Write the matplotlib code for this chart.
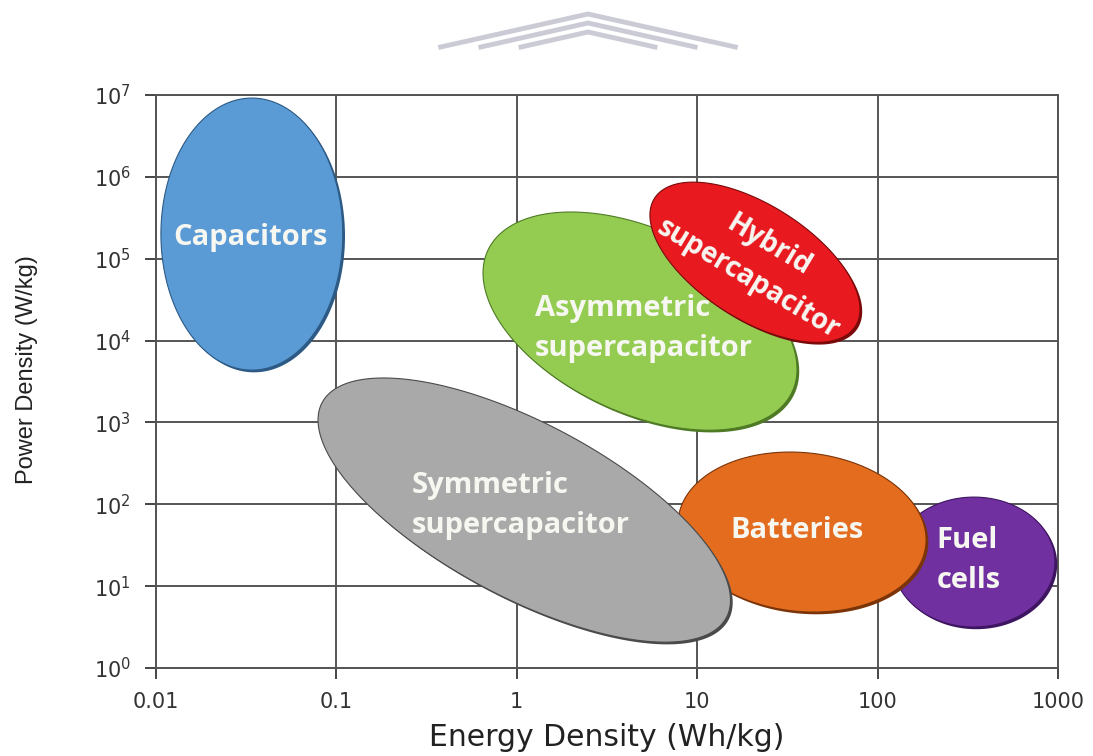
import numpy as np
import matplotlib.pyplot as plt
import matplotlib.transforms as mtrans
from matplotlib.lines import Line2D

# Ragone plot regions: centre (Wh/kg, W/kg), semi-axes in decades, tilt in degrees
names = ['Fuel cells', 'Batteries', 'Symmetric supercapacitor',
         'Asymmetric supercapacitor', 'Hybrid supercapacitor', 'Capacitors']
centre_energy = [342, 38.1, 1.10, 4.82, 20.9, 0.034]
centre_power = [19.7, 45.8, 85, 1.73e4, 9.06e4, 2.0e5]
semi_major = [0.449, 0.690, 1.269, 0.930, 0.660, 0.504]
semi_minor = [0.360, 0.440, 0.482, 0.508, 0.317, 0.754]
tilt = [0, -6, -28, -24.9, -32.5, 0]
fills = ['#7030a0', '#e46c1e', '#a9a9a9', '#94cc52', '#e8191f', '#5b9bd5']
edges = ['#3e1560', '#7a3408', '#4a4a4a', '#4f7a25', '#7a0a0a', '#2c5a85']

# label text and anchor (Wh/kg, W/kg)
labels = ['Fuel\ncells', 'Batteries', 'Symmetric\nsupercapacitor',
          'Asymmetric\nsupercapacitor', 'Hybrid\nsupercapacitor', 'Capacitors']
label_energy = [213, 35.8, 0.262, 1.26, 22.0, 0.0332]
label_power = [20.3, 48.4, 96.4, 1.4e4, 9.06e4, 1.83e5]

x_ticks = [0.01, 0.1, 1, 10, 100, 1000]
x_tick_labels = ['0.01', '0.1', '1', '10', '100', '1000']
y_ticks = [10.0 ** k for k in range(8)]

plt.rcParams['mathtext.fontset'] = 'dejavusans'
fig = plt.figure(figsize=(10.93, 7.56), dpi=100)
ax = fig.add_axes([0.1427, 0.1164, 0.8253, 0.7579])
ax.set_xscale('log')
ax.set_yscale('log')
ax.set_xlim(0.01, 1000)
ax.set_ylim(1, 1e7)

# decades -> pixel aspect of the axes
ax_w = fig.get_figwidth() * fig.dpi * 0.8253 / 5
ax_h = fig.get_figheight() * fig.dpi * 0.7579 / 7
ratio = ax_w / ax_h

t = np.linspace(0, 2 * np.pi, 300)
shadow = mtrans.ScaledTranslation(1.6 / 72, -1.6 / 72, fig.dpi_scale_trans)
for i in range(len(names)):
    th = np.radians(tilt[i])
    u = semi_major[i] * np.cos(t)
    v = semi_minor[i] * np.sin(t)
    dx = u * np.cos(th) - v * np.sin(th)
    dy = (u * np.sin(th) + v * np.cos(th)) * ratio
    ex = 10 ** (np.log10(centre_energy[i]) + dx)
    ey = 10 ** (np.log10(centre_power[i]) + dy)
    ax.fill(ex, ey, color=edges[i], lw=0, zorder=3 + i,
            transform=ax.transData + shadow)
    ax.fill(ex, ey, facecolor=fills[i], edgecolor=edges[i], lw=0.8,
            zorder=3 + i)

for i in range(len(labels)):
    txt = labels[i]
    kw = dict(color='#f7f7f2', fontweight='bold',
              family=['Open Sans', 'DejaVu Sans'], zorder=20, va='center',
              linespacing=1.5)
    if i in (0, 2, 3):
        ax.text(label_energy[i], label_power[i], txt, ha='left',
                multialignment='left', fontsize=21, **kw)
    elif i == 4:
        ax.text(label_energy[i], label_power[i], txt, ha='center',
                multialignment='center', rotation=-31, fontsize=20,
                rotation_mode='anchor', **kw)
    else:
        ax.text(label_energy[i], label_power[i], txt, ha='center',
                fontsize=21, **kw)

ax.set_xticks(x_ticks)
ax.set_xticklabels(x_tick_labels)
ax.set_yticks(y_ticks)
ax.minorticks_off()
ax.grid(True, which='major', color='#555555', lw=1.4, zorder=1)
ax.set_axisbelow(True)
for s in ax.spines.values():
    s.set_color('#555555')
    s.set_linewidth(1.4)
ax.tick_params(direction='out', length=8, width=1.4, color='#444444',
               labelsize=15, labelcolor='#333333')
ax.tick_params(axis='x', pad=9)
ax.tick_params(axis='y', pad=10)

ax.set_xlabel('Energy Density (Wh/kg)', fontsize=21.5, color='#222222',
              family='DejaVu Sans', labelpad=8)
ax.set_ylabel('Power Density (W/kg)', fontsize=17, color='#222222',
              family='Liberation Sans')
ax.yaxis.set_label_coords(-0.131, 0.52)

# faint watermark chevrons at the top
for k in range(3):
    apex_y = 14 + 9 * k
    half = (47 - apex_y) / 0.224
    xs = np.array([588 - half, 588, 588 + half]) / 1093
    ys = 1 - np.array([47, apex_y, 47]) / 756
    fig.add_artist(Line2D(xs, ys, color='#cbcbd6', lw=3.5,
                          transform=fig.transFigure))

fig.savefig('out.png', dpi=100)
